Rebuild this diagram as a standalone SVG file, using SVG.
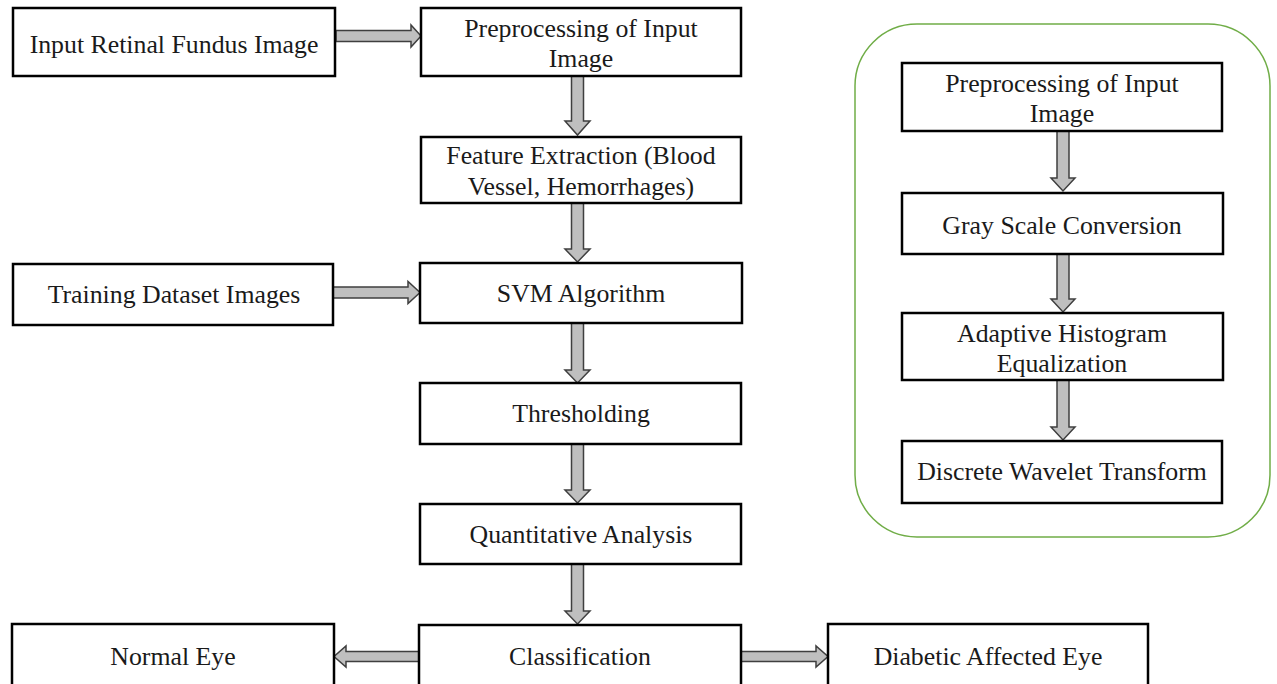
<svg xmlns="http://www.w3.org/2000/svg" width="1277" height="684" viewBox="0 0 1277 684">
<style>
.box{fill:#ffffff;stroke:#000000;stroke-width:2.5}
.t{font-family:"Liberation Serif","Times New Roman",serif;font-size:25.8px;fill:#1a1a1a;text-anchor:middle}
.arr{fill:#bfbfbf;stroke:#3f3f3f;stroke-width:1.5;stroke-linejoin:miter}
.panel{fill:none;stroke:#70ad47;stroke-width:1.5}
</style>
<rect width="1277" height="684" fill="#ffffff"/>
<rect class="panel" x="855" y="24" width="415" height="513" rx="62" ry="62"/>
<g id="connectors">
<path class="arr" d="M336,30.5 H411 V25 L421,36 L411,47 V41.5 H336 Z"/>
<path class="arr" d="M333,287 H408 V281.5 L420,292.5 L408,303.5 V298 H333 Z"/>
<path class="arr" d="M419,651.5 H346 V646 L334,656.5 L346,667 V661.5 H419 Z"/>
<path class="arr" d="M741,651.5 H816 V646 L828,656.5 L816,667 V661.5 H741 Z"/>
<path class="arr" d="M571.5,76 V121 H565 L577.5,135 L590,121 H583.5 V76 Z"/>
<path class="arr" d="M571.5,203 V249 H565 L577.5,262 L590,249 H583.5 V203 Z"/>
<path class="arr" d="M571.5,323 V370 H565 L577.5,383 L590,370 H583.5 V323 Z"/>
<path class="arr" d="M571.5,444 V490 H565 L577.5,503 L590,490 H583.5 V444 Z"/>
<path class="arr" d="M571.5,564 V611 H565 L577.5,624 L590,611 H583.5 V564 Z"/>
<path class="arr" d="M1057,131 V178 H1051 L1063,191 L1075,178 H1069 V131 Z"/>
<path class="arr" d="M1057,254 V299 H1051 L1063,312 L1075,299 H1069 V254 Z"/>
<path class="arr" d="M1057,380 V427 H1051 L1063,440 L1075,427 H1069 V380 Z"/>
</g>
<g id="input"><rect class="box" x="13" y="8" width="322" height="68"/><text class="t" x="174" y="53">Input Retinal Fundus Image</text></g>
<g id="preproc"><rect class="box" x="421" y="8" width="320" height="68"/><text class="t" x="581" y="37">Preprocessing of Input</text><text class="t" x="581" y="67">Image</text></g>
<g id="feature"><rect class="box" x="421" y="137" width="320" height="66"/><text class="t" x="581" y="164">Feature Extraction (Blood</text><text class="t" x="581" y="195">Vessel, Hemorrhages)</text></g>
<g id="training"><rect class="box" x="13" y="264" width="320" height="61"/><text class="t" x="174" y="303">Training Dataset Images</text></g>
<g id="svm"><rect class="box" x="420" y="263" width="322" height="60"/><text class="t" x="581" y="302">SVM Algorithm</text></g>
<g id="thresh"><rect class="box" x="420" y="383" width="321" height="61"/><text class="t" x="581" y="422">Thresholding</text></g>
<g id="quant"><rect class="box" x="420" y="504" width="321" height="60"/><text class="t" x="581" y="543">Quantitative Analysis</text></g>
<g id="normal"><rect class="box" x="12" y="624" width="322" height="80"/><text class="t" x="173" y="665">Normal Eye</text></g>
<g id="classification"><rect class="box" x="419" y="625" width="322" height="80"/><text class="t" x="580" y="665">Classification</text></g>
<g id="diabetic"><rect class="box" x="828" y="624" width="320" height="80"/><text class="t" x="988" y="665">Diabetic Affected Eye</text></g>
<g id="r-preproc"><rect class="box" x="902" y="63" width="320" height="68"/><text class="t" x="1062" y="92">Preprocessing of Input</text><text class="t" x="1062" y="122">Image</text></g>
<g id="gray"><rect class="box" x="902" y="193" width="321" height="61"/><text class="t" x="1062" y="234">Gray Scale Conversion</text></g>
<g id="adaptive"><rect class="box" x="902" y="313" width="321" height="67"/><text class="t" x="1062" y="342">Adaptive Histogram</text><text class="t" x="1062" y="372">Equalization</text></g>
<g id="dwt"><rect class="box" x="902" y="441" width="320" height="62"/><text class="t" x="1062" y="480">Discrete Wavelet Transform</text></g>
</svg>
